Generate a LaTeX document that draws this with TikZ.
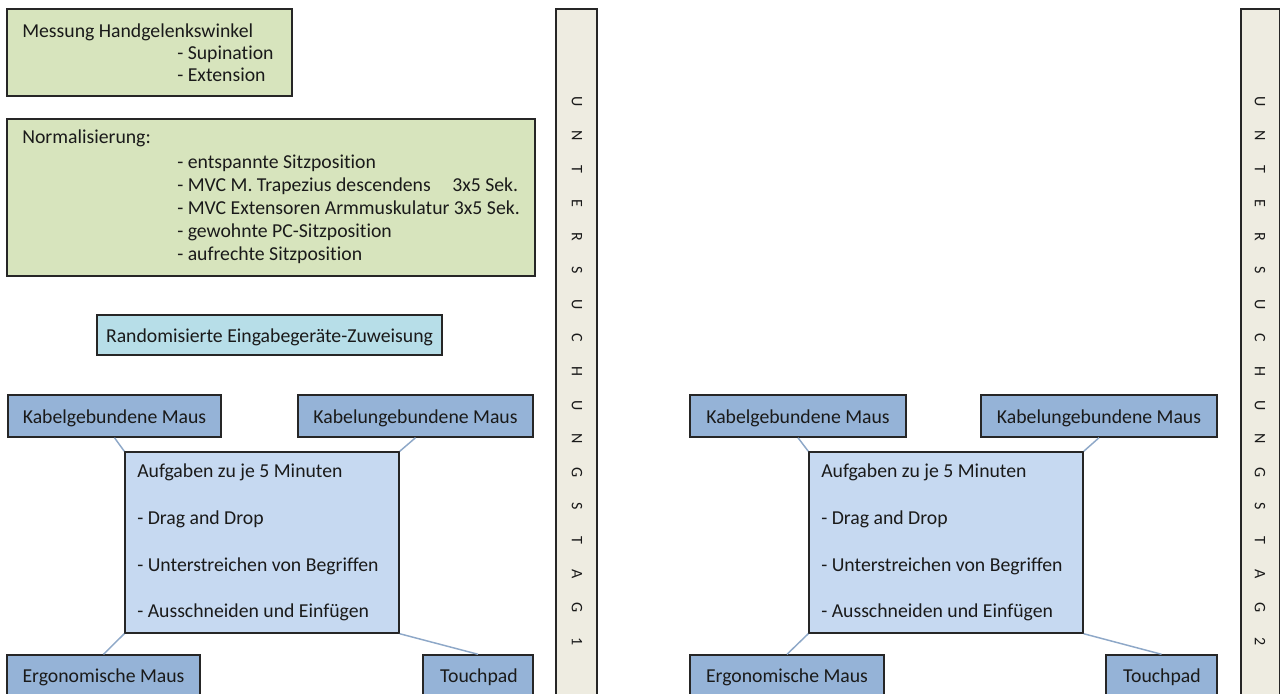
\documentclass[tikz,border=0pt]{standalone}
\usepackage{fontspec}
\setmainfont{Carlito}[Ligatures={NoCommon}]
\usetikzlibrary{fit}
\definecolor{greenbox}{HTML}{D7E4BD}
\definecolor{aquabox}{HTML}{B7DEE8}
\definecolor{mousebox}{HTML}{95B3D7}
\definecolor{taskbox}{HTML}{C6D9F1}
\definecolor{barfill}{HTML}{EEECE1}
\definecolor{edgecol}{HTML}{262626}
\definecolor{linkcol}{HTML}{8EA8C8}
\definecolor{textcol}{HTML}{1A1A1A}
\newcommand{\mainsz}{\fontsize{14.8}{17}\selectfont}
\newcommand{\barsz}{\fontsize{12}{13}\selectfont}
\begin{document}
\begin{tikzpicture}[x=0.75pt,y=-0.75pt,
  box/.style={draw=edgecol, line width=1.1pt, inner sep=0pt},
  gbox/.style={box, fill=greenbox},
  abox/.style={box, fill=aquabox},
  mbox/.style={box, fill=mousebox},
  tbox/.style={box, fill=taskbox},
  barbox/.style={box, fill=barfill},
  txt/.style={inner sep=0pt, font=\mainsz, text=textcol, anchor=base west},
  ctxt/.style={inner sep=0pt, font=\mainsz, text=textcol, text height=1.45ex, text depth=0.25ex, anchor=center, yshift=-3pt},
  letter/.style={inner sep=0pt, font=\barsz, rotate=-90, text=textcol},
  link/.style={draw=linkcol, line width=1.1pt}]
\useasboundingbox (0,0) rectangle (1281,693);
\clip (0,0) rectangle (1281,693);
\fill[white] (0,0) rectangle (1281,693);

% ---------- left half ----------
\node[gbox, fit={(7,9) (292,96)}] (mess) {};
\node[txt] (messA) at (22,37) {Messung Handgelenkswinkel};
\node[txt] (messB) at (177,59) {- Supination};
\node[txt] (messC) at (177,81) {- Extension};

\node[gbox, fit={(7,119) (535,276)}] (norm) {};
\node[txt] (normA) at (22,143) {Normalisierung:};
\node[txt] (normB) at (177,168) {- entspannte Sitzposition};
\node[txt] (normC) at (177,191) {- MVC M. Trapezius descendens};
\node[txt] (normC2) at (452,191) {3x5 Sek.};
\node[txt] (normD) at (177,214) {- MVC Extensoren Armmuskulatur 3x5 Sek.};
\node[txt] (normE) at (177,237) {- gewohnte PC-Sitzposition};
\node[txt] (normF) at (177,260) {- aufrechte Sitzposition};

\node[abox, fit={(97,315) (442,355)}] (rand) {};
\node[ctxt] (randT) at (rand.center) {Randomisierte Eingabeger\"ate-Zuweisung};

\node[mbox, fit={(8,395) (221,437)}] (kg1) {};
\node[ctxt] (kg1T) at (kg1.center) {Kabelgebundene Maus};
\node[mbox, fit={(298,395) (533,437)}] (ku1) {};
\node[ctxt] (ku1T) at (ku1.center) {Kabelungebundene Maus};
\node[tbox, fit={(125,452) (399,633)}] (task1) {};
\node[txt] (t1a) at (137,477) {Aufgaben zu je 5 Minuten};
\node[txt] (t1b) at (137,524) {- Drag and Drop};
\node[txt] (t1c) at (137,571) {- Unterstreichen von Begriffen};
\node[txt] (t1d) at (137,617) {- Ausschneiden und Einf\"ugen};
\node[mbox, fit={(7,655) (200,700)}] (er1) {};
\node[ctxt] (er1T) at (103.5,675) {Ergonomische Maus};
\node[mbox, fit={(423,655) (533,700)}] (tp1) {};
\node[ctxt] (tp1T) at (479,675) {Touchpad};
\draw[link] (kg1.south) -- (task1.north west);
\draw[link] (ku1.south) -- (task1.north east);
\draw[link] (task1.south west) -- (er1.north);
\draw[link] (task1.south east) -- (tp1.north);

\node[barbox, fit={(556,9) (597,700)}] (bar1) {};
\foreach \ch [count=\i] in {U,N,T,E,R,S,U,C,H,U,N,G,S,T,A,G,1}
  \node[letter] (b1l\i) at (577,{102+(\i-1)*33.7}) {\ch};

% ---------- right half ----------
\node[mbox, fit={(690,395) (906,437)}] (kg2) {};
\node[ctxt] (kg2T) at (kg2.center) {Kabelgebundene Maus};
\node[mbox, fit={(981,395) (1217,437)}] (ku2) {};
\node[ctxt] (ku2T) at (ku2.center) {Kabelungebundene Maus};
\node[tbox, fit={(809,452) (1083,633)}] (task2) {};
\node[txt] (t2a) at (821,477) {Aufgaben zu je 5 Minuten};
\node[txt] (t2b) at (821,524) {- Drag and Drop};
\node[txt] (t2c) at (821,571) {- Unterstreichen von Begriffen};
\node[txt] (t2d) at (821,617) {- Ausschneiden und Einf\"ugen};
\node[mbox, fit={(690,655) (884,700)}] (er2) {};
\node[ctxt] (er2T) at (787,675) {Ergonomische Maus};
\node[mbox, fit={(1106,655) (1217,700)}] (tp2) {};
\node[ctxt] (tp2T) at (1162,675) {Touchpad};
\draw[link] (kg2.south) -- (task2.north west);
\draw[link] (ku2.south) -- (task2.north east);
\draw[link] (task2.south west) -- (er2.north);
\draw[link] (task2.south east) -- (tp2.north);

\node[barbox, fit={(1241,9) (1279.3,700)}] (bar2) {};
\foreach \ch [count=\i] in {U,N,T,E,R,S,U,C,H,U,N,G,S,T,A,G,2}
  \node[letter] (b2l\i) at (1260,{102+(\i-1)*33.7}) {\ch};
\end{tikzpicture}
\end{document}
